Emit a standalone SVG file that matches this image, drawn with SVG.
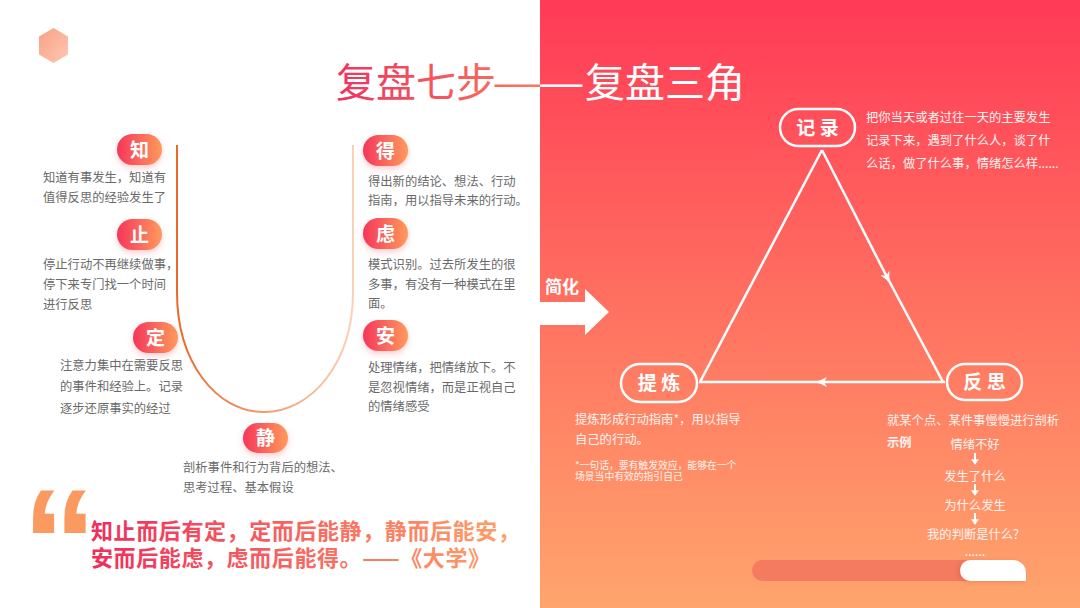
<svg xmlns="http://www.w3.org/2000/svg" width="1080" height="608" viewBox="0 0 1080 608">
<defs>
<linearGradient id="bgR" x1="0" y1="0" x2="0" y2="1">
<stop offset="0" stop-color="#ff3a57"/>
<stop offset="0.5" stop-color="#ff7060"/>
<stop offset="1" stop-color="#ffa56d"/>
</linearGradient>
<linearGradient id="pillG" x1="0" y1="0" x2="1" y2="0">
<stop offset="0" stop-color="#f5365a"/>
<stop offset="1" stop-color="#ff9a5c"/>
</linearGradient>
<linearGradient id="titleG" x1="336" y1="0" x2="540" y2="0" gradientUnits="userSpaceOnUse">
<stop offset="0" stop-color="#ee3360"/>
<stop offset="1" stop-color="#f97a5c"/>
</linearGradient>
<linearGradient id="quoteG" x1="91" y1="0" x2="510" y2="0" gradientUnits="userSpaceOnUse">
<stop offset="0" stop-color="#ef2d5a"/>
<stop offset="1" stop-color="#ffa067"/>
</linearGradient>
<linearGradient id="uG" x1="177" y1="0" x2="353" y2="0" gradientUnits="userSpaceOnUse">
<stop offset="0" stop-color="#e8692a"/>
<stop offset="1" stop-color="#fbd1b6"/>
</linearGradient>
<linearGradient id="hexG" x1="0" y1="0" x2="1" y2="1">
<stop offset="0" stop-color="#f9a084"/>
<stop offset="1" stop-color="#fdc8b3"/>
</linearGradient>
<clipPath id="clipL"><rect x="0" y="0" width="540" height="608"/></clipPath>
<clipPath id="clipR"><rect x="540" y="0" width="540" height="608"/></clipPath>
<filter id="sh" x="-40%" y="-40%" width="180%" height="200%">
<feDropShadow dx="0" dy="3" stdDeviation="3" flood-color="#f25a6a" flood-opacity="0.3"/>
</filter>
<filter id="sh2" x="-20%" y="-40%" width="140%" height="200%">
<feDropShadow dx="-2" dy="1" stdDeviation="2" flood-color="#b04030" flood-opacity="0.25"/>
</filter>
<marker id="arr" viewBox="0 0 10 10" refX="9" refY="5" markerWidth="10" markerHeight="10" markerUnits="userSpaceOnUse" orient="auto">
<path d="M0,0 L10,5 L0,10 L3,5 Z" fill="#ffffff"/>
</marker>
<marker id="arrS" viewBox="0 0 10 10" refX="5" refY="9" markerWidth="8" markerHeight="8" markerUnits="userSpaceOnUse" orient="0">
<path d="M0,3 L10,3 L5,10 Z" fill="#ffffff"/>
</marker>
<style>
.cjk{font-family:"Noto Sans CJK SC","Noto Sans",sans-serif;}
.body{font-family:"Noto Sans CJK SC",sans-serif;font-size:12.3px;fill:#6a6a6a;}
.pill{fill:url(#pillG);filter:url(#sh);}
.pt{font-family:"Noto Sans CJK SC",sans-serif;font-size:19px;font-weight:700;fill:#ffffff;text-anchor:middle;}
.wpill{fill:none;stroke:#ffffff;stroke-width:2.5;}
.wpt{font-family:"Noto Sans CJK SC",sans-serif;font-size:19px;font-weight:700;fill:#ffffff;text-anchor:middle;}
.wt{font-family:"Noto Sans CJK SC",sans-serif;font-size:12.3px;fill:#fff4f0;}
.ws{font-family:"Noto Sans CJK SC",sans-serif;font-size:9.8px;fill:#fff4f0;}
.flow{font-family:"Noto Sans CJK SC",sans-serif;font-size:12.3px;fill:#fff4f0;text-anchor:middle;}
.edge{stroke:#ffffff;stroke-width:2.5;fill:none;}
.ttl{font-family:"Noto Sans CJK SC","Noto Sans",sans-serif;font-size:40px;}
</style>
</defs>

<!-- backgrounds -->
<rect x="0" y="0" width="540" height="608" fill="#ffffff"/>
<rect x="540" y="0" width="540" height="608" fill="url(#bgR)"/>

<!-- hexagon -->
<polygon points="53.5,28 68,36.5 68,54.5 53.5,63 39,54.5 39,36.5" fill="url(#hexG)"/>

<!-- title -->
<g id="title">
<text class="ttl" y="97" fill="url(#titleG)" clip-path="url(#clipL)"><tspan x="336">复盘七步</tspan><tspan x="492" textLength="93" lengthAdjust="spacingAndGlyphs">——</tspan><tspan x="585">复盘三角</tspan></text>
<text class="ttl" y="97" fill="#ffffff" clip-path="url(#clipR)"><tspan x="336">复盘七步</tspan><tspan x="492" textLength="93" lengthAdjust="spacingAndGlyphs">——</tspan><tspan x="585">复盘三角</tspan></text>
</g>

<g id="connectors">
<path d="M177,145 V292 C177,362 216,412 264,412 C312,412 353,362 353,292 V145" fill="none" stroke="url(#uG)" stroke-width="2"/>
<line class="edge" x1="822" y1="150" x2="700" y2="382"/>
<line class="edge" x1="822" y1="150" x2="889" y2="281" marker-end="url(#arr)"/>
<line class="edge" x1="887" y1="277" x2="943" y2="382"/>
<line class="edge" x1="945" y1="382" x2="818" y2="382" marker-end="url(#arr)"/>
<line class="edge" x1="822" y1="382" x2="699" y2="382"/>
<line x1="975" y1="453" x2="975" y2="464" stroke="#ffffff" stroke-width="2" marker-end="url(#arrS)"/>
<line x1="975" y1="484" x2="975" y2="495" stroke="#ffffff" stroke-width="2" marker-end="url(#arrS)"/>
<line x1="975" y1="513" x2="975" y2="524" stroke="#ffffff" stroke-width="2" marker-end="url(#arrS)"/>
</g>

<g id="node-zhi">
<rect class="pill" x="117" y="134" width="45" height="31" rx="15.5"/>
<text class="pt" x="139.5" y="156.5">知</text>
<text class="body" x="43" y="182">知道有事发生，知道有</text>
<text class="body" x="43" y="202">值得反思的经验发生了</text>
</g>
<g id="node-zhi2">
<rect class="pill" x="117" y="219" width="45" height="31" rx="15.5"/>
<text class="pt" x="139.5" y="241.5">止</text>
<text class="body" x="43" y="268.5">停止行动不再继续做事，</text>
<text class="body" x="43" y="288.5">停下来专门找一个时间</text>
<text class="body" x="43" y="308.5">进行反思</text>
</g>
<g id="node-ding">
<rect class="pill" x="133" y="322" width="45" height="31" rx="15.5"/>
<text class="pt" x="155.5" y="344.5">定</text>
<text class="body" x="60" y="369.5">注意力集中在需要反思</text>
<text class="body" x="60" y="390.5">的事件和经验上。记录</text>
<text class="body" x="60" y="412.5">逐步还原事实的经过</text>
</g>
<g id="node-jing">
<rect class="pill" x="243" y="423" width="45" height="30" rx="15"/>
<text class="pt" x="265.5" y="445">静</text>
<text class="body" x="183" y="471.5">剖析事件和行为背后的想法、</text>
<text class="body" x="183" y="491.5">思考过程、基本假设</text>
</g>
<g id="node-de">
<rect class="pill" x="363" y="135" width="45" height="31" rx="15.5"/>
<text class="pt" x="385.5" y="157.5">得</text>
<text class="body" x="368" y="185.5">得出新的结论、想法、行动</text>
<text class="body" x="368" y="204.5">指南，用以指导未来的行动。</text>
</g>
<g id="node-lv">
<rect class="pill" x="363" y="218" width="45" height="31" rx="15.5"/>
<text class="pt" x="385.5" y="240.5">虑</text>
<text class="body" x="368" y="268.5">模式识别。过去所发生的很</text>
<text class="body" x="368" y="288.5">多事，有没有一种模式在里</text>
<text class="body" x="368" y="307.5">面。</text>
</g>
<g id="node-an">
<rect class="pill" x="363" y="320" width="45" height="31" rx="15.5"/>
<text class="pt" x="385.5" y="342.5">安</text>
<text class="body" x="368" y="371.5">处理情绪，把情绪放下。不</text>
<text class="body" x="368" y="391.5">是忽视情绪，而是正视自己</text>
<text class="body" x="368" y="410.5">的情绪感受</text>
</g>

<g id="quote">
<text x="22" y="594" font-family="Liberation Sans, Arial, sans-serif" font-weight="700" font-size="150" fill="#fb9a60">“</text>
<text class="cjk" x="91" y="539" font-size="22" font-weight="700" letter-spacing="0.6" fill="url(#quoteG)">知止而后有定，定而后能静，静而后能安，</text>
<text class="cjk" x="91" y="566" font-size="22" font-weight="700" letter-spacing="0.6" fill="url(#quoteG)">安而后能虑，虑而后能得。——《大学》</text>
</g>

<g id="simplify">
<text class="cjk" x="545" y="293" font-size="17" font-weight="700" fill="#ffffff">简化</text>
<polygon points="540,302 585,302 585,289 609,312 585,335 585,325 540,325" fill="#ffffff"/>
</g>

<g id="node-jilu">
<rect class="wpill" x="780" y="109" width="75" height="37" rx="18.5"/>
<text class="wpt" x="817.5" y="134.5">记 录</text>
<text class="wt" x="866" y="121.5">把你当天或者过往一天的主要发生</text>
<text class="wt" x="866" y="144.5">记录下来，遇到了什么人，谈了什</text>
<text class="wt" x="866" y="167.5">么话，做了什么事，情绪怎么样......</text>
</g>
<g id="node-tilian">
<rect class="wpill" x="621" y="364" width="76" height="38" rx="19"/>
<text class="wpt" x="659" y="390">提 炼</text>
<text class="wt" x="575" y="423.5">提炼形成行动指南*，用以指导</text>
<text class="wt" x="575" y="443.5">自己的行动。</text>
<text class="ws" x="575" y="468.5">*一句话，要有触发效应，能够在一个</text>
<text class="ws" x="575" y="479.5">场景当中有效的指引自己</text>
</g>
<g id="node-fansi">
<rect class="wpill" x="947" y="364" width="75" height="36" rx="18"/>
<text class="wpt" x="984.5" y="389">反 思</text>
<text class="wt" x="887" y="424.5">就某个点、某件事慢慢进行剖析</text>
<text class="wt" x="887" y="446.5" font-weight="700">示例</text>
<text class="flow" x="975" y="448.5">情绪不好</text>
<text class="flow" x="975" y="480.5">发生了什么</text>
<text class="flow" x="975" y="509.5">为什么发生</text>
<text class="flow" x="973" y="538.5">我的判断是什么?</text>
<text class="flow" x="975" y="556" font-size="9">......</text>
</g>

<g id="progress">
<rect x="752" y="560" width="225" height="21" rx="10.5" fill="#f47a60"/>
<path d="M970.5,560 H1013 A13,13 0 0 1 1026,573 V581 H970.5 A10.5,10.5 0 0 1 970.5,560 Z" fill="#ffffff" filter="url(#sh2)"/>
</g>
</svg>
